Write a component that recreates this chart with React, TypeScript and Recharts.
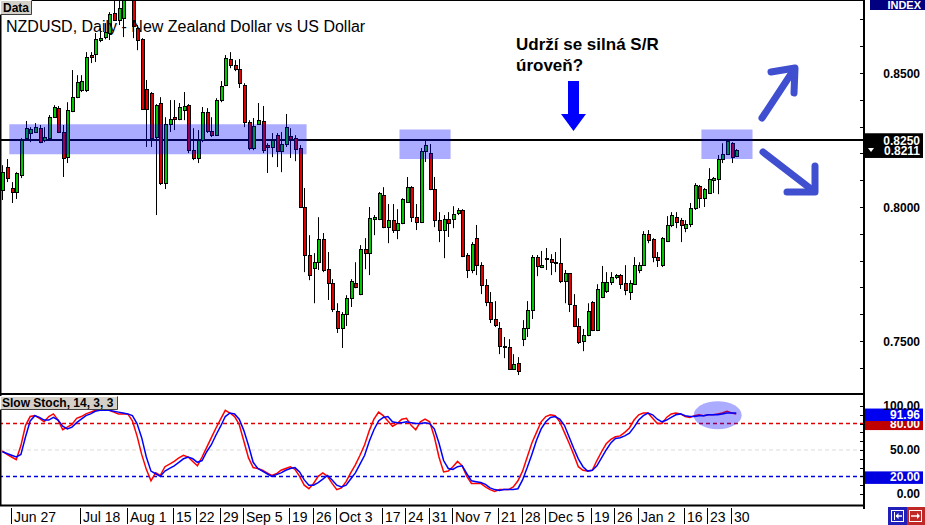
import React from 'react';
import { ComposedChart, Bar, Line, XAxis, YAxis, ReferenceLine, ReferenceArea, ReferenceDot } from 'recharts';

// ---- NZDUSD daily candles, 23 Jun 2011 .. 31 Jan 2012 ----
const opens = [
  0.8063, 0.8149, 0.8071, 0.8056, 0.8119, 0.8257, 0.8276, 0.8280, 0.8294, 0.8250,
  0.8257, 0.8335, 0.8369, 0.8280, 0.8186, 0.8358, 0.8410, 0.8436, 0.8436, 0.8567,
  0.8571, 0.8623, 0.8634, 0.8649, 0.8723, 0.8697, 0.8705, 0.8828, 0.8791, 0.8668,
  0.8626, 0.8440, 0.8425, 0.8261, 0.8388, 0.8089, 0.8309, 0.8335, 0.8328, 0.8362,
  0.8380, 0.8212, 0.8183, 0.8250, 0.8354, 0.8283, 0.8268, 0.8399, 0.8455, 0.8552,
  0.8529, 0.8515, 0.8455, 0.8317, 0.8220, 0.8309, 0.8321, 0.8231, 0.8224, 0.8268,
  0.8209, 0.8235, 0.8265, 0.8257, 0.8220, 0.8000, 0.7821, 0.7772, 0.7794, 0.7880,
  0.7768, 0.7716, 0.7612, 0.7548, 0.7600, 0.7660, 0.7716, 0.7675, 0.7843, 0.7828,
  0.7955, 0.7955, 0.8044, 0.7925, 0.7951, 0.7914, 0.7940, 0.8018, 0.8074, 0.7962,
  0.7944, 0.8209, 0.8201, 0.8067, 0.7951, 0.7914, 0.7955, 0.7955, 0.7977, 0.7989,
  0.7821, 0.7765, 0.7884, 0.7783, 0.7709, 0.7645, 0.7582, 0.7548, 0.7481, 0.7477,
  0.7395, 0.7418, 0.7507, 0.7548, 0.7615, 0.7813, 0.7776, 0.7806, 0.7806, 0.7791,
  0.7791, 0.7724, 0.7753, 0.7634, 0.7556, 0.7500, 0.7522, 0.7645, 0.7541, 0.7664,
  0.7686, 0.7720, 0.7739, 0.7746, 0.7716, 0.7683, 0.7712, 0.7765, 0.7783, 0.7899,
  0.7880, 0.7813, 0.7783, 0.7873, 0.7933, 0.7962, 0.7951, 0.7921, 0.7936, 0.7996,
  0.8078, 0.8033, 0.8052, 0.8100, 0.8104, 0.8179, 0.8197, 0.8238, 0.8190,
];
const highs = [
  0.8156, 0.8179, 0.8093, 0.8130, 0.8257, 0.8321, 0.8298, 0.8313, 0.8306, 0.8298,
  0.8343, 0.8380, 0.8377, 0.8306, 0.8391, 0.8511, 0.8492, 0.8492, 0.8578, 0.8578,
  0.8649, 0.8668, 0.8686, 0.8727, 0.8791, 0.8772, 0.8828, 0.8847, 0.8828, 0.8679,
  0.8630, 0.8474, 0.8429, 0.8384, 0.8410, 0.8335, 0.8399, 0.8399, 0.8388, 0.8429,
  0.8384, 0.8294, 0.8287, 0.8373, 0.8369, 0.8335, 0.8406, 0.8470, 0.8567, 0.8578,
  0.8548, 0.8552, 0.8462, 0.8324, 0.8332, 0.8388, 0.8377, 0.8238, 0.8276, 0.8276,
  0.8280, 0.8347, 0.8294, 0.8268, 0.8231, 0.8071, 0.7895, 0.7828, 0.7962, 0.7903,
  0.7832, 0.7731, 0.7641, 0.7608, 0.7671, 0.7731, 0.7794, 0.7858, 0.7884, 0.8000,
  0.7970, 0.8056, 0.8074, 0.8011, 0.8011, 0.7992, 0.8033, 0.8112, 0.8078, 0.8011,
  0.8220, 0.8253, 0.8235, 0.8112, 0.7981, 0.7970, 0.7981, 0.8003, 0.7996, 0.7992,
  0.7828, 0.7869, 0.7933, 0.7794, 0.7731, 0.7683, 0.7649, 0.7571, 0.7515, 0.7507,
  0.7451, 0.7440, 0.7578, 0.7649, 0.7821, 0.7821, 0.7836, 0.7847, 0.7824, 0.7832,
  0.7884, 0.7765, 0.7753, 0.7675, 0.7585, 0.7545, 0.7641, 0.7649, 0.7712, 0.7780,
  0.7757, 0.7757, 0.7750, 0.7750, 0.7783, 0.7727, 0.7813, 0.7794, 0.7910, 0.7914,
  0.7884, 0.7832, 0.7888, 0.7966, 0.7981, 0.7981, 0.7959, 0.7951, 0.8015, 0.8089,
  0.8082, 0.8071, 0.8145, 0.8112, 0.8194, 0.8238, 0.8250, 0.8242, 0.8216,
];
const lows = [
  0.8026, 0.8093, 0.8015, 0.8030, 0.8108, 0.8253, 0.8242, 0.8276, 0.8238, 0.8242,
  0.8253, 0.8332, 0.8276, 0.8112, 0.8164, 0.8354, 0.8406, 0.8429, 0.8429, 0.8537,
  0.8541, 0.8615, 0.8626, 0.8623, 0.8694, 0.8679, 0.8634, 0.8779, 0.8630, 0.8585,
  0.8362, 0.8224, 0.8224, 0.7970, 0.8082, 0.8067, 0.8280, 0.8287, 0.8324, 0.8324,
  0.8201, 0.8175, 0.8164, 0.8242, 0.8276, 0.8261, 0.8265, 0.8391, 0.8451, 0.8518,
  0.8507, 0.8444, 0.8298, 0.8212, 0.8212, 0.8306, 0.8201, 0.8127, 0.8186, 0.8149,
  0.8130, 0.8224, 0.8183, 0.8171, 0.7996, 0.7757, 0.7727, 0.7641, 0.7765, 0.7757,
  0.7653, 0.7608, 0.7530, 0.7474, 0.7556, 0.7627, 0.7697, 0.7671, 0.7768, 0.7746,
  0.7895, 0.7951, 0.7921, 0.7865, 0.7903, 0.7880, 0.7936, 0.8015, 0.7944, 0.7914,
  0.7940, 0.8168, 0.8063, 0.7925, 0.7869, 0.7809, 0.7888, 0.7921, 0.7970, 0.7813,
  0.7735, 0.7753, 0.7746, 0.7675, 0.7630, 0.7567, 0.7552, 0.7451, 0.7436, 0.7392,
  0.7392, 0.7373, 0.7481, 0.7515, 0.7582, 0.7742, 0.7772, 0.7765, 0.7746, 0.7757,
  0.7716, 0.7641, 0.7608, 0.7552, 0.7489, 0.7462, 0.7518, 0.7537, 0.7537, 0.7660,
  0.7679, 0.7709, 0.7731, 0.7694, 0.7671, 0.7653, 0.7709, 0.7753, 0.7780, 0.7865,
  0.7794, 0.7776, 0.7776, 0.7869, 0.7925, 0.7921, 0.7869, 0.7906, 0.7925, 0.7989,
  0.7996, 0.8000, 0.8052, 0.8052, 0.8048, 0.8164, 0.8194, 0.8164, 0.8186,
];
const closes = [
  0.8130, 0.8108, 0.8056, 0.8127, 0.8250, 0.8294, 0.8291, 0.8298, 0.8242, 0.8261,
  0.8335, 0.8373, 0.8280, 0.8183, 0.8362, 0.8410, 0.8466, 0.8470, 0.8559, 0.8559,
  0.8626, 0.8630, 0.8653, 0.8720, 0.8697, 0.8742, 0.8802, 0.8791, 0.8675, 0.8623,
  0.8365, 0.8365, 0.8257, 0.8380, 0.8089, 0.8309, 0.8328, 0.8328, 0.8373, 0.8377,
  0.8212, 0.8183, 0.8250, 0.8354, 0.8283, 0.8268, 0.8399, 0.8451, 0.8556, 0.8529,
  0.8515, 0.8462, 0.8317, 0.8220, 0.8302, 0.8324, 0.8212, 0.8224, 0.8250, 0.8209,
  0.8235, 0.8298, 0.8253, 0.8216, 0.8000, 0.7821, 0.7746, 0.7794, 0.7880, 0.7765,
  0.7716, 0.7619, 0.7548, 0.7600, 0.7660, 0.7724, 0.7701, 0.7843, 0.7828, 0.7959,
  0.7962, 0.8052, 0.7925, 0.7951, 0.7914, 0.7940, 0.8030, 0.8074, 0.7962, 0.7944,
  0.8209, 0.8231, 0.8067, 0.7951, 0.7914, 0.7955, 0.7940, 0.7974, 0.7989, 0.7817,
  0.7765, 0.7862, 0.7783, 0.7709, 0.7645, 0.7582, 0.7559, 0.7481, 0.7477, 0.7395,
  0.7414, 0.7388, 0.7548, 0.7615, 0.7813, 0.7780, 0.7783, 0.7809, 0.7794, 0.7794,
  0.7724, 0.7753, 0.7638, 0.7556, 0.7496, 0.7522, 0.7612, 0.7541, 0.7694, 0.7720,
  0.7720, 0.7739, 0.7746, 0.7712, 0.7690, 0.7716, 0.7783, 0.7783, 0.7899, 0.7877,
  0.7813, 0.7802, 0.7884, 0.7933, 0.7970, 0.7944, 0.7933, 0.7936, 0.7996, 0.8082,
  0.8033, 0.8067, 0.8104, 0.8108, 0.8179, 0.8197, 0.8246, 0.8186, 0.8211,
];

// ---- Slow Stochastic (14,3,3) ----
const stochK = [
  49, 45, 42, 39, 55, 78, 88, 89, 86, 82, 88, 91, 84, 73, 76, 79, 86, 88, 91, 93,
  95, 95, 95, 95, 93, 91, 91, 91, 83, 66, 45, 28, 15, 24, 21, 31, 34, 37, 41, 44,
  42, 37, 32, 42, 53, 64, 75, 85, 95, 92, 88, 79, 60, 41, 30, 29, 27, 24, 21, 23,
  27, 29, 31, 28, 20, 10, 6, 12, 20, 24, 20, 12, 5, 7, 14, 24, 33, 44, 56, 72,
  85, 93, 89, 83, 77, 80, 85, 86, 78, 73, 82, 85, 82, 65, 42, 25, 26, 31, 37, 32,
  20, 12, 12, 12, 8, 5, 3, 5, 5, 5, 8, 15, 26, 42, 58, 70, 82, 88, 90, 89,
  82, 70, 58, 45, 31, 27, 26, 27, 38, 48, 57, 62, 65, 66, 70, 75, 84, 90, 92, 92,
  86, 80, 80, 87, 91, 92, 91, 88, 87, 89, 90, 89, 90, 90, 91, 92, 94, 92, 91,
];
const stochD = [
  48, 46, 44, 42, 45, 65, 83, 89, 87, 84, 84, 87, 84, 77, 74, 76, 81, 85, 89, 91,
  94, 95, 95, 95, 94, 93, 92, 91, 89, 80, 64, 42, 26, 23, 20, 26, 29, 32, 36, 40,
  42, 40, 36, 38, 48, 56, 67, 77, 88, 92, 91, 85, 72, 55, 36, 29, 26, 23, 20, 22,
  24, 27, 29, 30, 25, 16, 10, 10, 13, 17, 21, 16, 10, 8, 10, 17, 24, 34, 44, 60,
  73, 83, 87, 88, 82, 81, 81, 82, 81, 80, 80, 81, 80, 74, 58, 38, 29, 28, 31, 32,
  23, 15, 14, 13, 11, 7, 5, 4, 5, 5, 5, 6, 16, 30, 45, 61, 74, 82, 87, 88,
  85, 78, 65, 52, 40, 31, 26, 27, 32, 41, 50, 58, 63, 64, 66, 69, 76, 84, 89, 92,
  90, 85, 82, 84, 87, 90, 91, 89, 88, 88, 89, 89, 90, 90, 90, 91, 92, 92, 92,
];

// ---- axis labels (trading-day index -> Monday label) ----
const tickIdx = [2, 17, 27, 37, 42, 47, 52, 62, 67, 72, 82, 87, 92, 97, 107, 112, 117, 127, 132, 137, 147, 152, 157];
const tickText = ['Jun 27', 'Jul 18', 'Aug 1', '15', '22', '29', 'Sep 5', '19', '26', 'Oct 3', '17', '24', '31', 'Nov 7', '21', '28', 'Dec 5', '19', '26', 'Jan 2', '16', '23', '30'];
const priceTicks = [0.74, 0.75, 0.76, 0.77, 0.78, 0.79, 0.80, 0.81, 0.82, 0.83, 0.84, 0.85, 0.86, 0.87];
const stochTicks = [0, 10, 20, 30, 40, 50, 60, 70, 80, 90, 100];
const stochLabels = [0, 50, 100];

const SR_LEVEL = 0.825;
const LAST_PRICE = 0.8211;
const LAST_STOCH = 91.96;
const SLOTS = 186; // trading-day slots across the panel (empty space on the right)

const PRICE_DOMAIN = [0.73023, 0.87724];
const STOCH_DOMAIN = [-12.5, 113.6];

const rows = Array.from({ length: SLOTS }, (_, i) =>
  i < opens.length
    ? { i, o: opens[i], h: highs[i], l: lows[i], c: closes[i], range: [lows[i], highs[i]], k: stochK[i], d: stochD[i] }
    : { i }
);

const FONT = '"Liberation Sans", Arial, sans-serif';

const Candle = (p: any) => {
  const { x, y, width, height, payload } = p;
  if (!payload || payload.o == null || !isFinite(y) || !isFinite(height)) return null;
  const { o, h, l, c } = payload;
  const cx = Math.round(x + width / 2);
  const pix = (v: number) => (h === l ? y : y + ((h - v) / (h - l)) * height);
  const top = Math.round(pix(Math.max(o, c)));
  const bot = Math.round(pix(Math.min(o, c)));
  const up = c >= o;
  return (
    <g>
      <line x1={cx + 0.5} x2={cx + 0.5} y1={y} y2={y + height} stroke="#000" strokeWidth={1} />
      <rect x={cx - 0.5} y={top + 0.5} width={3} height={Math.max(bot - top, 1)} fill={up ? '#00c800' : '#e00000'} stroke="#000" strokeWidth={1} />
    </g>
  );
};

const PriceTick = (p: any) => {
  const { x, y, payload } = p;
  const v = payload.value;
  const major = Math.abs(v * 20 - Math.round(v * 20)) < 1e-6;
  const yy = Math.round(y) + 0.5;
  return (
    <g>
      <line x1={x - 4} x2={x} y1={yy} y2={yy} stroke="#000" />
      {major && (
        <text x={x + 56} y={y + 4.5} textAnchor="end" fontSize={12} fontWeight="bold" fill="#000" fontFamily={FONT}>
          {v.toFixed(4)}
        </text>
      )}
    </g>
  );
};

const StochTick = (p: any) => {
  const { x, y, payload } = p;
  const v = payload.value;
  const yy = Math.round(y) + 0.5;
  return (
    <g>
      <line x1={x - 4} x2={x} y1={yy} y2={yy} stroke="#000" />
      {stochLabels.includes(v) && (
        <text x={x + 56} y={y + 4.5} textAnchor="end" fontSize={12} fontWeight="bold" fill="#000" fontFamily={FONT}>
          {v.toFixed(2)}
        </text>
      )}
    </g>
  );
};

const EdgeTick = (p: any) => {
  const { x, y } = p;
  const yy = Math.round(y) + 0.5;
  return <line x1={x} x2={x + 3} y1={yy} y2={yy} stroke="#000" />;
};

const DateTick = (p: any) => {
  const { x, y, payload } = p;
  const idx = tickIdx.indexOf(payload.value);
  const label = idx >= 0 ? tickText[idx] : '';
  const lx = Math.round(x) - 0.5;
  return (
    <g>
      <line x1={lx} x2={lx} y1={y + 3} y2={y + 19} stroke="#000" />
      <text x={lx + 2.5} y={y + 17} fontSize={14} fill="#000" fontFamily={FONT}>
        {label}
      </text>
    </g>
  );
};

const AxisBox = (p: any) => {
  const { viewBox, text, bg, top = -6, bottom = 6.5, base = 4.5, arrow = false, cover = 0 } = p;
  if (!viewBox) return null;
  const vx = viewBox.x + viewBox.width;
  const vy = viewBox.y;
  return (
    <g>
      <rect x={vx + 1} y={vy + top} width={58} height={bottom - top} fill={bg} />
      {arrow && <polygon points={`${vx + 4},${vy - 2.5} ${vx + 10},${vy - 2.5} ${vx + 7},${vy + 1.5}`} fill="#fff" />}
      <text x={vx + 56} y={vy + base} textAnchor="end" fontSize={12} fontWeight="bold" fill="#fff" fontFamily={FONT}>
        {text}
      </text>
      {cover > 0 && <rect x={vx + 1} y={vy + top} width={58} height={cover} fill={bg} />}
    </g>
  );
};

const Ellipse = (p: any) => (
  <ellipse cx={p.cx} cy={p.cy} rx={24} ry={14} fill="#0000ff" fillOpacity={0.33} />
);

export default function App() {
  return (
    <div style={{ position: 'relative', width: 925, height: 525, background: '#fff', overflow: 'hidden', fontFamily: FONT }}>
      <style>{'body{margin:0;}'}</style>
      <div style={{ position: 'absolute', left: 0, top: 0 }}>
        <ComposedChart width={925} height={394} data={rows} margin={{ top: 0, right: 0, bottom: 0, left: 0 }}>
          <XAxis dataKey="i" type="category" scale="band" hide />
          <YAxis yAxisId="p" orientation="right" width={61} domain={PRICE_DOMAIN} allowDataOverflow ticks={priceTicks} interval={0}
            tickSize={0} tickMargin={0} tickLine={false} axisLine={{ stroke: '#000', strokeWidth: 2 }} tick={<PriceTick />} />
          <YAxis yAxisId="e" orientation="left" width={0} domain={PRICE_DOMAIN} allowDataOverflow ticks={priceTicks} interval={0}
            tickSize={0} tickMargin={0} tickLine={false} axisLine={false} tick={<EdgeTick />} />
          <ReferenceLine yAxisId="p" y={SR_LEVEL} stroke="#000" strokeWidth={2} zIndex={250}
            label={<AxisBox text={SR_LEVEL.toFixed(4)} bg="#000" top={-6.5} bottom={6} base={4.5} cover={2.5} />} />
          <Bar yAxisId="p" dataKey="range" isAnimationActive={false} shape={(p: any) => <Candle {...p} />} />
          <ReferenceArea yAxisId="p" x1={2} x2={65} y1={0.8197} y2={0.8309} fill="#0000ff" fillOpacity={0.33} stroke="none" ifOverflow="visible" zIndex={350} />
          <ReferenceArea yAxisId="p" x1={86} x2={96} y1={0.8179} y2={0.8289} fill="#0000ff" fillOpacity={0.33} stroke="none" ifOverflow="visible" zIndex={350} />
          <ReferenceArea yAxisId="p" x1={151} x2={161} y1={0.8179} y2={0.8289} fill="#0000ff" fillOpacity={0.33} stroke="none" ifOverflow="visible" zIndex={350} />
          <ReferenceLine yAxisId="p" y={LAST_PRICE} stroke="none"
            label={<AxisBox text={LAST_PRICE.toFixed(4)} bg="#000" top={-4.5} bottom={7.5} base={5} arrow />} />
        </ComposedChart>
      </div>
      <div style={{ position: 'absolute', left: 0, top: 394 }}>
        <ComposedChart width={925} height={131} data={rows} margin={{ top: 0, right: 0, bottom: 0, left: 0 }}>
          <XAxis dataKey="i" type="category" scale="band" ticks={tickIdx} interval={0} height={20} tickSize={0} tickMargin={0}
            axisLine={false} tickLine={false} tick={<DateTick />} />
          <YAxis yAxisId="s" orientation="right" width={61} domain={STOCH_DOMAIN} allowDataOverflow ticks={stochTicks} interval={0}
            tickSize={0} tickMargin={0} tickLine={false} axisLine={{ stroke: '#000', strokeWidth: 2 }} tick={<StochTick />} />
          <YAxis yAxisId="e" orientation="left" width={0} domain={STOCH_DOMAIN} allowDataOverflow ticks={stochTicks} interval={0}
            tickSize={0} tickMargin={0} tickLine={false} axisLine={false} tick={<EdgeTick />} />
          <ReferenceLine yAxisId="s" y={50} stroke="#dcdcdc" strokeDasharray="4 3" zIndex={350} />
          <ReferenceLine yAxisId="s" y={80} stroke="#e00000" strokeWidth={1.5} strokeDasharray="4 3" zIndex={350}
            label={<AxisBox text="80.00" bg="#c00000" top={-6} bottom={6.5} base={4.5} />} />
          <ReferenceLine yAxisId="s" y={20} stroke="#0000e0" strokeWidth={1.5} strokeDasharray="4 3" zIndex={350}
            label={<AxisBox text="20.00" bg="#0000e0" top={-5} bottom={7.5} base={5} />} />
          <Line yAxisId="s" dataKey="k" stroke="#ff0000" strokeWidth={1.5} dot={false} isAnimationActive={false} />
          <Line yAxisId="s" dataKey="d" stroke="#0000ff" strokeWidth={1.5} dot={false} isAnimationActive={false} />
          <ReferenceLine yAxisId="s" y={LAST_STOCH} stroke="none"
            label={<AxisBox text={LAST_STOCH.toFixed(2)} bg="#0000f0" top={-4.5} bottom={8} base={6} />} />
          <ReferenceDot yAxisId="s" x={154} y={89.5} r={1} shape={(p: any) => <Ellipse {...p} />} ifOverflow="visible" />
        </ComposedChart>
      </div>
      <svg width={925} height={525} style={{ position: 'absolute', left: 0, top: 0, pointerEvents: 'none' }}>
        {/* panel frames */}
        <line x1={0} x2={864} y1={0.5} y2={0.5} stroke="#000" />
        <rect x={0} y={0} width={1.5} height={506} fill="#000" />
        <rect x={0} y={393} width={864} height={2} fill="#000" />
        <rect x={0} y={504.5} width={864} height={2} fill="#000" />
        <rect x={863} y={504} width={2} height={5} fill="#000" />
        {/* INDEX tab */}
        <rect x={870} y={0} width={55} height={10} fill="#000080" />
        <text x={921} y={9} textAnchor="end" fontSize={11} fontWeight="bold" fill="#fff" fontFamily={FONT}>INDEX</text>
        {/* Data button */}
        <rect x={0} y={0} width={32} height={15} fill="#d4d0c8" />
        <path d="M0.5,14.5 V0.5 H31.5" fill="none" stroke="#fff" />
        <path d="M0.5,14.5 H31.5 V0.5" fill="none" stroke="#404040" />
        <text x={3} y={12} fontSize={12} fontWeight="bold" fill="#000" fontFamily={FONT}>Data</text>
        {/* title */}
        <text x={6} y={31.5} fontSize={16} fill="#000" fontFamily={FONT}>NZDUSD, Daily - New Zealand Dollar vs US Dollar</text>
        {/* stochastic label */}
        <rect x={0} y={396} width={118} height={14} fill="#d4d0c8" />
        <path d="M0.5,409.5 V396.5 H117.5" fill="none" stroke="#fff" />
        <path d="M0.5,409.5 H117.5 V396.5" fill="none" stroke="#404040" />
        <text x={2} y={407} fontSize={12} fontWeight="bold" fill="#000" fontFamily={FONT}>Slow Stoch, 14, 3, 3</text>
        {/* annotation */}
        <text x={516} y={50} fontSize={17} fontWeight="bold" fill="#000" fontFamily={FONT}>Udrží se silná S/R</text>
        <text x={516} y={71} fontSize={17} fontWeight="bold" fill="#000" fontFamily={FONT}>úroveň?</text>
        <polygon points="568,81 579,81 579,114 586,114 573.5,131 561,114 568,114" fill="#0000ff" />
        <g stroke="#3f4fd0" strokeWidth={7} strokeLinecap="round" strokeLinejoin="round" fill="none">
          <path d="M762,118 L793,71" />
          <path d="M771,72 L795,68 L794,93" />
          <path d="M763,152 L811,189" />
          <path d="M787,192 L815,192 L815,166" />
        </g>
        {/* navigation buttons */}
        <rect x={888} y={507} width={19} height={18} fill="#2020b8" />
        <rect x={891.5} y={510.5} width={12} height={11} fill="none" stroke="#fff" />
        <line x1={894.5} x2={894.5} y1={512} y2={520} stroke="#fff" />
        <line x1={896} x2={902} y1={516} y2={516} stroke="#fff" strokeWidth={1.5} />
        <polygon points="895.5,516 898.5,513 898.5,519" fill="#fff" />
        <rect x={907} y={507} width={18} height={18} fill="#c02828" />
        <rect x={909.5} y={510.5} width={12} height={11} fill="none" stroke="#fff" />
        <line x1={911} x2={918} y1={516} y2={516} stroke="#fff" strokeWidth={1.5} />
        <polygon points="920,516 917,513 917,519" fill="#fff" />
      </svg>
    </div>
  );
}
